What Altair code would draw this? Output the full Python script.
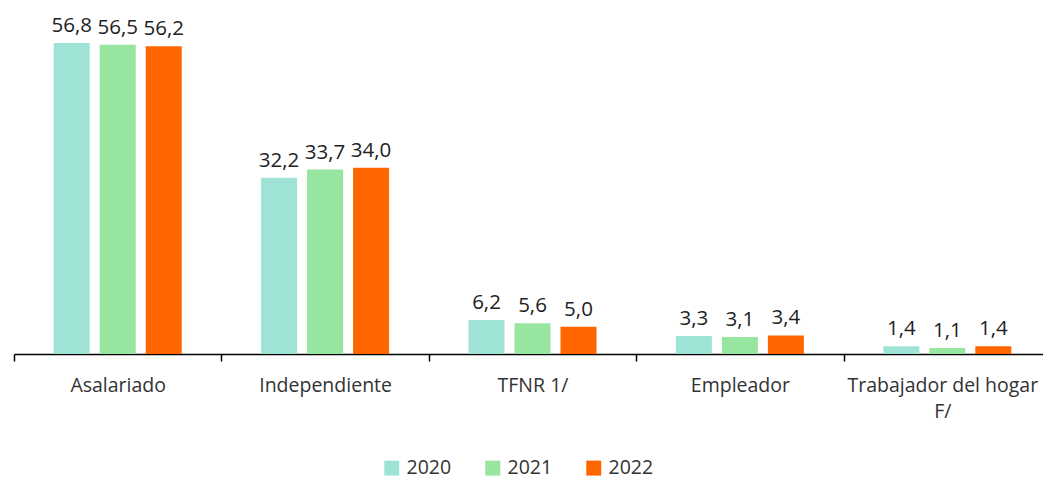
import altair as alt
import pandas as pd

categories = ["Asalariado", "Independiente", "TFNR 1/", "Empleador", "Trabajador del hogar F/"]
years = ["2020", "2021", "2022"]
v2020 = [56.8, 32.2, 6.2, 3.3, 1.4]
v2021 = [56.5, 33.7, 5.6, 3.1, 1.1]
v2022 = [56.2, 34.0, 5.0, 3.4, 1.4]
colors = ["#9fe3d7", "#98e59f", "#ff6600"]

rows = []
for yr, vals in zip(years, [v2020, v2021, v2022]):
    for c, v in zip(categories, vals):
        rows.append({"cat": c, "year": yr, "value": v, "label": f"{v:.1f}".replace(".", ",")})
df = pd.DataFrame(rows)

FONT = "Open Sans"

base = alt.Chart(df).encode(
    x=alt.X("cat:N", sort=categories, title=None,
            scale=alt.Scale(paddingInner=0, paddingOuter=0, range=[0, 1037]),
            axis=alt.Axis(labelAngle=0, domainColor="#000000", tickColor="#000000",
                          tickBand="extent", tickSize=7, tickWidth=1.5, domainWidth=1.5,
                          labelFont=FONT, labelFontSize=19.5, labelColor="#333333",
                          labelPadding=15, labelLimit=300, labelLineHeight=26,
                          labelBaseline="top",
                          labelOffset={"condition": {"test": "datum.value == 'Trabajador del hogar F/'", "value": -5}, "value": 0},
                          labelExpr="datum.label == 'Trabajador del hogar F/' ? ['Trabajador del hogar', 'F/'] : datum.label")),
    xOffset=alt.XOffset("year:N", sort=years,
                        scale=alt.Scale(paddingInner=0.217, paddingOuter=0.863)),
    y=alt.Y("value:Q", scale=alt.Scale(domain=[0, 63.2], nice=False), axis=None),
)

bars = base.mark_bar().encode(
    color=alt.Color("year:N", sort=years,
                    scale=alt.Scale(domain=years, range=colors),
                    legend=alt.Legend(title=None, orient="none", legendX=368, legendY=450,
                                      direction="horizontal", symbolType="square",
                                      symbolSize=225, symbolStrokeWidth=0,
                                      labelFont=FONT, labelFontSize=19.5, labelColor="#333333",
                                      labelOffset=5, columnPadding=31, symbolOffset=0,
                                      padding=0))
)

text = base.mark_text(dy=-7, baseline="bottom", font=FONT, fontSize=20.5, color="#222222").encode(
    text="label:N"
)

chart = (bars + text).properties(
    width=1029, height=346,
    autosize=alt.AutoSizeParams(type="none"),
    padding={"left": 6, "top": 0, "right": 0, "bottom": 127},
).configure_view(stroke=None)

chart.save("out.html", embed_options={"renderer": "svg", "actions": False})
